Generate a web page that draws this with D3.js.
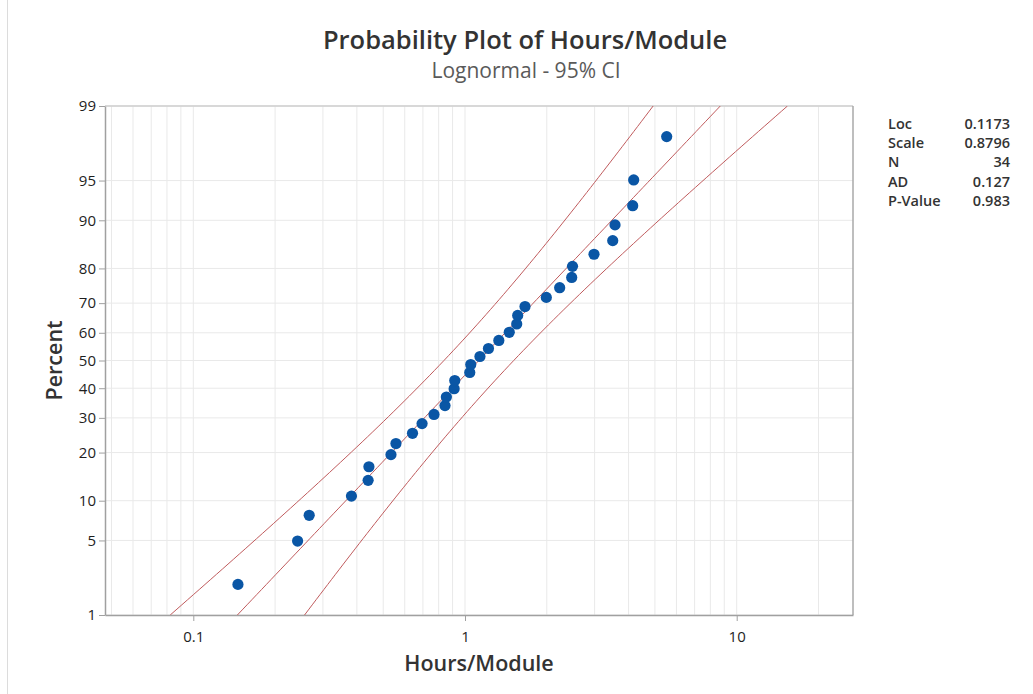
<!DOCTYPE html>
<html>
<head>
<meta charset="utf-8">
<script src="https://cdn.jsdelivr.net/npm/d3@7"></script>
<style>
    body { margin: 0; background: #fff; }
    text { font-family: "Open Sans", "Noto Sans", sans-serif; }
</style>
</head>
<body>
<div id="chart"></div>
<script>

const hours = [0.146, 0.242, 0.267, 0.382, 0.440, 0.443, 0.534, 0.557, 0.641, 0.695,
    0.769, 0.844, 0.854, 0.912, 0.917, 1.041, 1.050, 1.135, 1.220, 1.332,
    1.455, 1.550, 1.563, 1.663, 1.992, 2.231, 2.470, 2.487, 2.984, 3.497,
    3.566, 4.142, 4.177, 5.525];

// axis ticks
const yTickPercents = [1, 5, 10, 20, 30, 40, 50, 60, 70, 80, 90, 95, 99];
const xTickValues = [0.1, 1, 10];
const xGridValues = [0.05, 0.06, 0.07, 0.08, 0.09, 0.1, 0.2, 0.3, 0.4, 0.5, 0.6, 0.7, 0.8, 0.9,
    1, 2, 3, 4, 5, 6, 7, 8, 9, 10, 20];

// fit summary shown in the table
const statLabels = ["Loc", "Scale", "N", "AD", "P-Value"];
const statValues = ["0.1173", "0.8796", "34", "0.127", "0.983"];
const fitLoc = 0.1173;
const fitScale = 0.8796;
const fitN = 34;

// inverse normal cdf (Acklam)
function probit(p) {
    const a = [-3.969683028665376e+01, 2.209460984245205e+02, -2.759285104469687e+02, 1.383577518672690e+02, -3.066479806614716e+01, 2.506628277459239e+00];
    const b = [-5.447609879822406e+01, 1.615858368580409e+02, -1.556989798598866e+02, 6.680131188771972e+01, -1.328068155288572e+01];
    const c = [-7.784894002430293e-03, -3.223964580411365e-01, -2.400758277161838e+00, -2.549732539343734e+00, 4.374664141464968e+00, 2.938163982698783e+00];
    const d = [7.784695709041462e-03, 3.224671290700398e-01, 2.445134137142996e+00, 3.754408661907416e+00];
    const plow = 0.02425, phigh = 1 - plow;
    let q, r;
    if (p < plow) {
        q = Math.sqrt(-2 * Math.log(p));
        return (((((c[0]*q+c[1])*q+c[2])*q+c[3])*q+c[4])*q+c[5]) / ((((d[0]*q+d[1])*q+d[2])*q+d[3])*q+1);
    }
    if (p > phigh) {
        q = Math.sqrt(-2 * Math.log(1 - p));
        return -(((((c[0]*q+c[1])*q+c[2])*q+c[3])*q+c[4])*q+c[5]) / ((((d[0]*q+d[1])*q+d[2])*q+d[3])*q+1);
    }
    q = p - 0.5;
    r = q * q;
    return (((((a[0]*r+a[1])*r+a[2])*r+a[3])*r+a[4])*r+a[5])*q / (((((b[0]*r+b[1])*r+b[2])*r+b[3])*r+b[4])*r+1);
}

const width = 1033, height = 694;
const plot = {left: 105, right: 853, top: 106, bottom: 615};

const svg = d3.select("#chart").append("svg")
    .attr("width", width)
    .attr("height", height);

// frame line on the far left of the graph window
svg.append("line")
    .attr("x1", 7.5).attr("x2", 7.5)
    .attr("y1", 0).attr("y2", height)
    .attr("stroke", "#dcdcdc");

// scales: log x, normal-probability y
const decade = 271.7;
const x = d3.scaleLog()
    .domain([Math.pow(10, -(465 - plot.left) / decade), Math.pow(10, (plot.right - 465) / decade)])
    .range([plot.left, plot.right]);

const zMin = probit(0.01), zMax = probit(0.99);
const y = d3.scaleLinear()
    .domain([zMin, zMax])
    .range([plot.bottom, plot.top]);

// grid
svg.append("g").selectAll("line")
    .data(xGridValues)
    .enter().append("line")
    .attr("x1", d => x(d)).attr("x2", d => x(d))
    .attr("y1", plot.top).attr("y2", plot.bottom)
    .attr("stroke", "#e9e9e9");

svg.append("g").selectAll("line")
    .data(yTickPercents)
    .enter().append("line")
    .attr("x1", plot.left).attr("x2", plot.right)
    .attr("y1", d => y(probit(d / 100))).attr("y2", d => y(probit(d / 100)))
    .attr("stroke", "#e9e9e9");

// frame
svg.append("line")
    .attr("x1", plot.left).attr("x2", plot.right)
    .attr("y1", plot.top).attr("y2", plot.top)
    .attr("stroke", "#cfcfcf").attr("stroke-width", 1.5);
svg.append("line")
    .attr("x1", plot.right).attr("x2", plot.right)
    .attr("y1", plot.top).attr("y2", plot.bottom)
    .attr("stroke", "#a8a8a8").attr("stroke-width", 1.5);

// axes
const xAxis = d3.axisBottom(x)
    .tickValues(xTickValues)
    .tickFormat(d3.format("~g"))
    .tickSize(6)
    .tickSizeOuter(0);

const yAxis = d3.axisLeft(y)
    .tickValues(yTickPercents.map(p => probit(p / 100)))
    .tickFormat((d, i) => yTickPercents[i])
    .tickSize(6)
    .tickSizeOuter(0);

const gx = svg.append("g")
    .attr("transform", `translate(0,${plot.bottom})`)
    .call(xAxis);

const gy = svg.append("g")
    .attr("transform", `translate(${plot.left},0)`)
    .call(yAxis);

[gx, gy].forEach(g => {
    g.select(".domain").attr("stroke", "#a0a0a0").attr("stroke-width", 1.5);
    g.selectAll(".tick line").attr("stroke", "#a0a0a0");
    g.selectAll(".tick text")
        .attr("fill", "#1e1e1e")
        .style("font-size", "15px")
        .style("font-family", '"Open Sans", "Noto Sans", sans-serif');
});
gx.selectAll(".tick text").attr("dy", "1.2em");
gy.selectAll(".tick text").attr("x", -9);

// fitted line and 95% CI from the fit parameters
const zs = d3.range(0, 101).map(i => zMin + (zMax - zMin) * i / 100);
const zCrit = 1.959964;
function band(sign) {
    return zs.map(z => {
        const se = fitScale * Math.sqrt(1 / fitN + z * z / (2 * fitN));
        return [Math.exp(fitLoc + fitScale * z + sign * zCrit * se), z];
    });
}

svg.append("clipPath").attr("id", "plotClip")
    .append("rect")
    .attr("x", plot.left).attr("y", plot.top)
    .attr("width", plot.right - plot.left).attr("height", plot.bottom - plot.top);

const line = d3.line()
    .x(d => x(d[0]))
    .y(d => y(d[1]));

svg.append("g")
    .attr("clip-path", "url(#plotClip)")
    .selectAll("path")
    .data([band(-1), band(0), band(1)])
    .enter().append("path")
    .attr("d", line)
    .attr("fill", "none")
    .attr("stroke", "#c05b5d")
    .attr("stroke-width", 1);

// points at median ranks
svg.append("g").selectAll("circle")
    .data(hours)
    .enter().append("circle")
    .attr("cx", d => x(d))
    .attr("cy", (d, i) => y(probit((i + 1 - 0.3) / (hours.length + 0.4))))
    .attr("r", 5.6)
    .attr("fill", "#0a56a5");

// titles
svg.append("text")
    .attr("x", 525).attr("y", 49)
    .attr("text-anchor", "middle")
    .attr("fill", "#333")
    .style("font-size", "25.5px")
    .style("font-weight", 600)
    .text("Probability Plot of Hours/Module");

svg.append("text")
    .attr("x", 526).attr("y", 78)
    .attr("text-anchor", "middle")
    .attr("fill", "#5a5a5a")
    .style("font-size", "21px")
    .text("Lognormal - 95% CI");

svg.append("text")
    .attr("x", (plot.left + plot.right) / 2).attr("y", 671)
    .attr("text-anchor", "middle")
    .attr("fill", "#333")
    .style("font-size", "21.5px")
    .style("font-weight", 600)
    .text("Hours/Module");

svg.append("text")
    .attr("transform", `translate(62,${(plot.top + plot.bottom) / 2}) rotate(-90)`)
    .attr("text-anchor", "middle")
    .attr("fill", "#333")
    .style("font-size", "21.5px")
    .style("font-weight", 600)
    .text("Percent");

// stats table
const stats = svg.append("g")
    .style("font-size", "14.5px")
    .style("font-weight", 600)
    .attr("fill", "#333");

stats.selectAll(".lab")
    .data(statLabels)
    .enter().append("text")
    .attr("x", 888)
    .attr("y", (d, i) => 129 + i * 19.2)
    .text(d => d);

stats.selectAll(".val")
    .data(statValues)
    .enter().append("text")
    .attr("x", 1010)
    .attr("y", (d, i) => 129 + i * 19.2)
    .attr("text-anchor", "end")
    .text(d => d);

</script>
</body>
</html>
